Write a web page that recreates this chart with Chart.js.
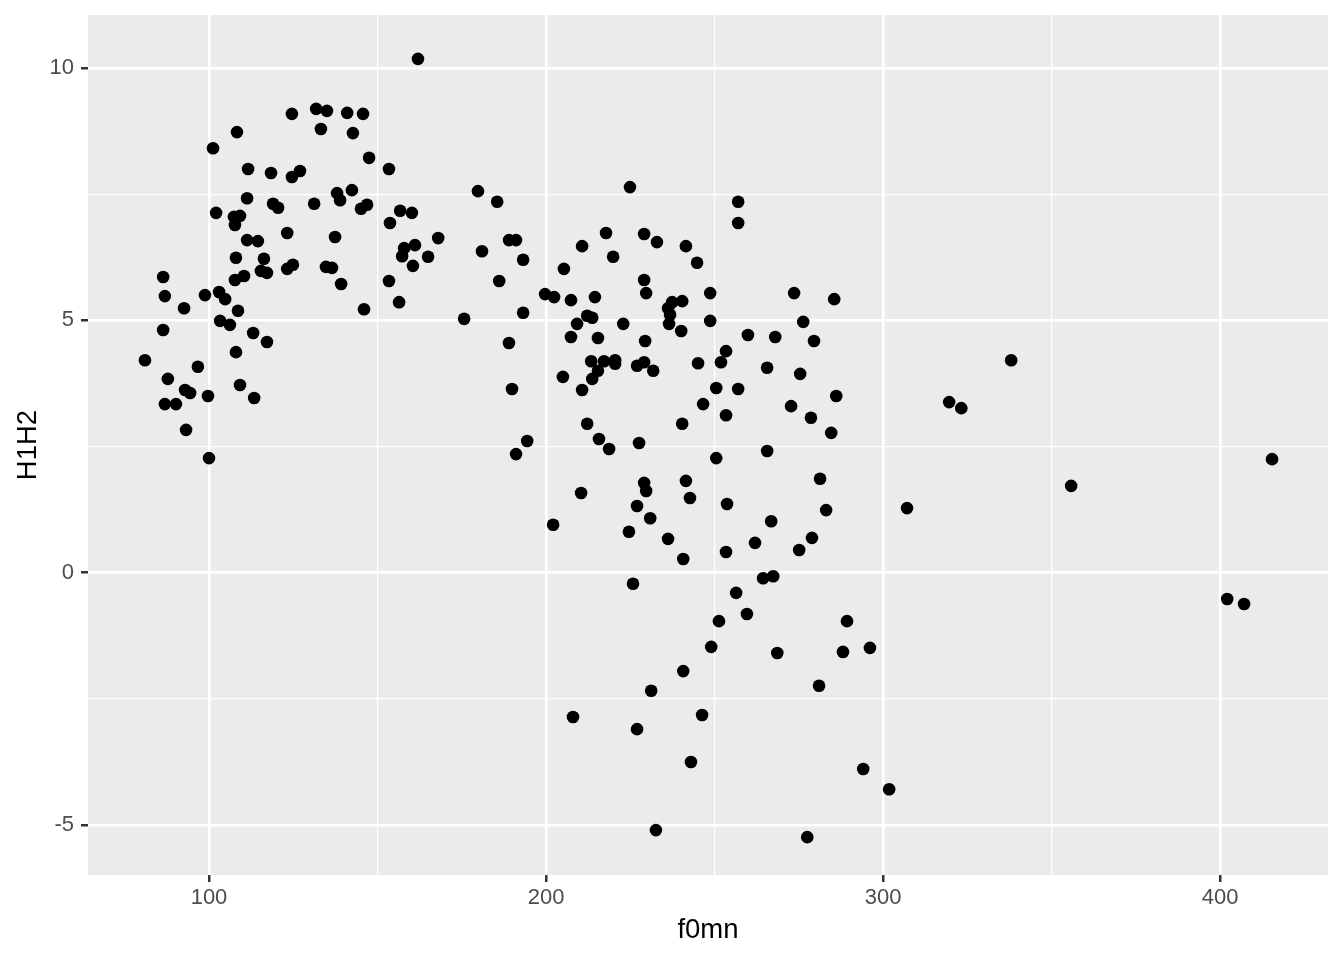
<!DOCTYPE html>
<html>
<head>
<meta charset="utf-8">
<title>H1H2 vs f0mn</title>
<script src="https://cdn.jsdelivr.net/npm/chart.js@4"></script>
<style>
  html, body { margin: 0; padding: 0; background: #ffffff; }
  canvas { display: block; }
</style>
</head>
<body>
<canvas id="scatterChart" width="1344" height="960"></canvas>
<script>
// Datos: f0mn (x) y H1H2 (y)
var f0mn = [
  81.0, 86.4, 86.9, 86.4, 87.8, 86.9, 90.2, 92.6, 92.9, 94.4,
  93.2, 96.7, 98.8, 99.7, 100.0, 101.2, 102.1, 103.0, 103.3, 104.8,
  106.2, 107.4, 107.7, 108.0, 107.7, 108.0, 108.3, 109.2, 108.6, 109.2,
  110.4, 111.3, 111.3, 111.6, 113.1, 113.4, 114.5, 115.4, 116.3, 117.2,
  117.2, 118.4, 119.0, 120.5, 123.2, 123.2, 124.6, 124.6, 124.9, 127.0,
  131.2, 131.8, 133.2, 135.0, 134.7, 136.5, 137.4, 138.0, 138.9, 139.2,
  141.0, 142.4, 142.7, 145.7, 145.1, 146.0, 146.9, 147.5, 153.4, 153.4,
  153.7, 156.4, 156.7, 157.3, 157.9, 160.2, 160.5, 161.1, 162.0, 165.0,
  168.0, 175.7, 179.8, 181.0, 185.5, 186.1, 189.0, 189.0, 189.9, 191.1,
  191.1, 193.2, 193.2, 194.4, 199.7, 202.4, 202.1, 205.3, 205.0, 207.4,
  207.4, 208.0, 209.2, 210.7, 210.4, 210.7, 212.2, 212.2, 213.7, 213.7,
  213.4, 214.5, 215.4, 215.7, 215.4, 217.2, 217.8, 218.7, 219.9, 220.5,
  220.5, 222.9, 224.9, 224.6, 225.8, 227.0, 227.0, 227.0, 227.6, 229.1,
  229.1, 229.7, 229.4, 229.1, 229.7, 229.1, 230.9, 231.2, 231.8, 232.9,
  232.6, 236.2, 236.2, 236.5, 237.4, 236.8, 240.4, 240.1, 240.4, 240.7,
  240.7, 241.5, 241.5, 242.7, 243.0, 244.8, 245.1, 246.6, 246.3, 248.7,
  248.7, 249.0, 250.5, 250.5, 251.3, 251.9, 253.4, 253.4, 253.7, 253.4,
  256.4, 257.0, 257.0, 257.0, 259.6, 259.9, 262.0, 264.4, 265.6, 265.6,
  266.8, 267.4, 268.0, 268.6, 272.7, 273.6, 275.1, 275.4, 276.3, 277.5,
  278.6, 278.9, 279.5, 281.0, 281.3, 283.1, 284.6, 285.5, 286.1, 288.1,
  289.3, 294.1, 296.1, 301.8, 307.1, 319.6, 323.2, 338.0, 355.8, 402.1,
  407.1, 415.4
];
var H1H2 = [
  4.21, 5.86, 5.48, 4.81, 3.84, 3.34, 3.34, 5.24, 3.62, 3.56,
  2.83, 4.08, 5.50, 3.50, 2.27, 8.41, 7.13, 5.56, 4.99, 5.42,
  4.91, 7.05, 6.89, 6.24, 5.80, 4.37, 8.73, 7.07, 5.19, 3.72,
  5.88, 7.42, 6.59, 8.00, 4.75, 3.46, 6.57, 5.98, 6.22, 5.94,
  4.57, 7.92, 7.31, 7.23, 6.73, 6.02, 9.09, 7.84, 6.10, 7.96,
  7.31, 9.19, 8.79, 9.15, 6.06, 6.04, 6.65, 7.52, 7.38, 5.72,
  9.11, 7.58, 8.71, 9.09, 7.21, 5.22, 7.29, 8.22, 5.78, 8.00,
  6.93, 5.36, 7.17, 6.27, 6.43, 7.13, 6.08, 6.49, 10.18, 6.26,
  6.63, 5.03, 7.56, 6.37, 7.35, 5.78, 6.59, 4.55, 3.64, 6.59,
  2.35, 5.15, 6.20, 2.61, 5.52, 5.46, 0.95, 6.02, 3.88, 5.40,
  4.67, -2.86, 4.93, 3.62, 1.58, 6.47, 2.95, 5.09, 5.05, 3.84,
  4.19, 5.46, 4.65, 2.65, 4.00, 4.19, 6.73, 2.45, 6.26, 4.21,
  4.14, 4.93, 7.64, 0.81, -0.22, 4.10, -3.10, 1.32, 2.57, 6.71,
  5.80, 5.54, 4.59, 1.78, 1.62, 4.17, 1.08, -2.34, 4.00, 6.55,
  -5.10, 0.67, 5.24, 4.93, 5.36, 5.11, 5.38, 4.79, 2.95, -1.95,
  0.27, 6.47, 1.82, 1.48, -3.75, 6.14, 4.15, 3.34, -2.82, 5.54,
  4.99, -1.47, 2.27, 3.66, -0.96, 4.17, 4.39, 3.12, 1.36, 0.41,
  -0.40, 3.64, 7.35, 6.93, -0.82, 4.71, 0.59, -0.11, 2.41, 4.06,
  1.02, -0.07, 4.67, -1.59, 3.30, 5.54, 0.45, 3.94, 4.97, -5.24,
  3.07, 0.69, 4.59, -2.24, 1.86, 1.24, 2.77, 5.42, 3.50, -1.57,
  -0.96, -3.89, -1.49, -4.29, 1.28, 3.38, 3.26, 4.21, 1.72, -0.52,
  -0.62, 2.25
];

// Marcas de los ejes (mayores con etiqueta, menores solo con linea)
var xTicks = [100, 150, 200, 250, 300, 350, 400];
var yTicks = [-5, -2.5, 0, 2.5, 5, 7.5, 10];
var xMajor = 100;
var yMajor = 5;

var points = f0mn.map(function (x, i) {
    return { x: x, y: H1H2[i] };
});

Chart.defaults.font.family = "'Liberation Sans', Arial, Helvetica, sans-serif";

// Fondo gris del panel, estilo ggplot
var panelBackground = {
    id: 'panelBackground',
    beforeDraw: function (chart) {
        var ctx = chart.ctx;
        var a = chart.chartArea;
        ctx.save();
        ctx.fillStyle = '#ffffff';
        ctx.fillRect(0, 0, chart.width, chart.height);
        ctx.fillStyle = '#EBEBEB';
        ctx.fillRect(a.left, a.top, a.right - a.left, a.bottom - a.top);
        ctx.restore();
    }
};

function isMajor(value, step) {
    return Math.abs(value / step - Math.round(value / step)) < 1e-9;
}

var ctxScatter = document.getElementById('scatterChart').getContext('2d');
var scatterChart = new Chart(ctxScatter, {
    type: 'scatter',
    data: {
        datasets: [{
            data: points,
            backgroundColor: '#000000',
            borderWidth: 0,
            pointRadius: 6.3,
            pointHoverRadius: 6.3
        }]
    },
    plugins: [panelBackground],
    options: {
        responsive: false,
        animation: false,
        events: [],
        layout: {
            padding: { top: 15, right: 16, left: 0, bottom: 0 }
        },
        plugins: {
            legend: { display: false },
            tooltip: { enabled: false }
        },
        scales: {
            x: {
                type: 'linear',
                min: 64.1,
                max: 432,
                afterBuildTicks: function (axis) {
                    axis.ticks = xTicks.map(function (v) { return { value: v }; });
                },
                afterFit: function (scale) {
                    scale.height = 85;
                    scale.paddingLeft = 0;
                    scale.paddingRight = 0;
                },
                border: { display: false },
                grid: {
                    color: '#ffffff',
                    lineWidth: function (c) { return isMajor(c.tick.value, xMajor) ? 2.5 : 1.2; },
                    drawTicks: true,
                    tickLength: 7,
                    tickWidth: 2.5,
                    tickColor: function (c) { return isMajor(c.tick.value, xMajor) ? '#333333' : 'rgba(0,0,0,0)'; }
                },
                ticks: {
                    autoSkip: false,
                    maxRotation: 0,
                    padding: 3,
                    color: '#4D4D4D',
                    font: { size: 22 },
                    callback: function (v) { return isMajor(v, xMajor) ? String(v) : ''; }
                },
                title: {
                    display: true,
                    text: 'f0mn',
                    color: '#000000',
                    font: { size: 27.5 },
                    padding: { top: 0, bottom: 13 }
                }
            },
            y: {
                type: 'linear',
                min: -5.99,
                max: 11.05,
                afterBuildTicks: function (axis) {
                    axis.ticks = yTicks.map(function (v) { return { value: v }; });
                },
                afterFit: function (scale) {
                    scale.width = 88;
                    scale.paddingTop = 0;
                    scale.paddingBottom = 0;
                },
                border: { display: false },
                grid: {
                    color: '#ffffff',
                    lineWidth: function (c) { return isMajor(c.tick.value, yMajor) ? 2.5 : 1.2; },
                    drawTicks: true,
                    tickLength: 7,
                    tickWidth: 2.5,
                    tickColor: function (c) { return isMajor(c.tick.value, yMajor) ? '#333333' : 'rgba(0,0,0,0)'; }
                },
                ticks: {
                    autoSkip: false,
                    padding: 7,
                    color: '#4D4D4D',
                    font: { size: 22 },
                    callback: function (v) { return isMajor(v, yMajor) ? String(v) : ''; }
                },
                title: {
                    display: true,
                    text: 'H1H2',
                    color: '#000000',
                    font: { size: 27.5 },
                    padding: { top: 12, bottom: 0 }
                }
            }
        }
    }
});
</script>
</body>
</html>
